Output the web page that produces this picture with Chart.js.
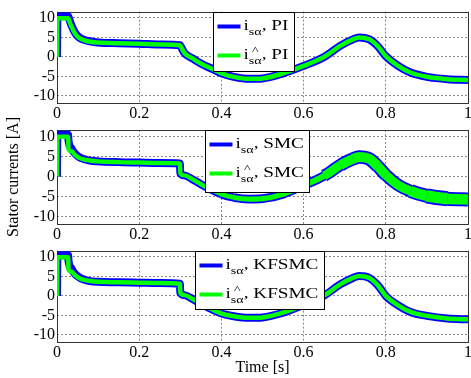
<!DOCTYPE html>
<html>
<head>
<meta charset="utf-8">
<script src="https://cdn.jsdelivr.net/npm/chart.js@4/dist/chart.umd.min.js"></script>
<style>
  html, body { margin: 0; padding: 0; background: #fff; }
  #wrap { position: relative; width: 471px; height: 378px; overflow: hidden; }
  #wrap canvas { position: absolute; left: 0; }
</style>
</head>
<body>
<div id="wrap">
  <canvas id="chartPI" width="471" height="121" style="top:0px"></canvas>
  <canvas id="chartSMC" width="471" height="142" style="top:100px"></canvas>
  <canvas id="chartKFSMC" width="471" height="139" style="top:239px"></canvas>
</div>
<script>
// time axis [s] and ticks
const timeS = [0, 0.001, 0.027, 0.028, 0.035, 0.045, 0.055, 0.065, 0.08, 0.1, 0.15, 0.2, 0.25, 0.299, 0.3, 0.31, 0.33, 0.35, 0.38, 0.4, 0.43, 0.468, 0.5, 0.55, 0.6, 0.65, 0.69, 0.72, 0.735, 0.76, 0.78, 0.8, 0.83, 0.86, 0.9, 0.95, 1.0];
const xTicks = [0, 0.2, 0.4, 0.6, 0.8, 1];
const yTicks = [-10, -5, 0, 5, 10];
const legendNames = ['PI', 'SMC', 'KFSMC'];

// PI : measured / estimated current [A]
const piMeas = [0, 10.4, 10.4, 10.2, 8.1, 6.0, 4.9, 4.4, 4.0, 3.7, 3.5, 3.4, 3.2, 3.0, 2.9, 1.0, -0.4, -1.7, -3.2, -4.2, -5.1, -5.6, -5.5, -4.2, -2.3, 0.0, 2.9, 4.5, 5.0, 4.5, 2.8, 0.2, -2.3, -4.0, -5.1, -5.7, -5.9];
const piEst = [0, 9.9, 9.9, 9.7, 7.8, 5.8, 4.8, 4.3, 3.9, 3.7, 3.5, 3.4, 3.2, 3.0, 2.9, 1.0, -0.4, -1.7, -3.2, -4.2, -5.1, -5.6, -5.5, -4.2, -2.3, 0.0, 2.9, 4.5, 5.0, 4.5, 2.8, 0.2, -2.3, -4.0, -5.1, -5.7, -5.9];

// SMC
const smcMeas = [0, 10.4, 10.4, 9.0, 7.0, 5.6, 4.8, 4.4, 4.0, 3.8, 3.6, 3.5, 3.4, 3.3, 0.8, 0.3, -0.7, -1.9, -3.5, -4.4, -5.2, -5.6, -5.5, -4.4, -2.2, 0.2, 2.9, 4.4, 4.9, 4.4, 2.6, 0.4, -2.1, -3.6, -4.8, -5.5, -5.7];
const smcEst = [0, 9.9, 9.9, 6.8, 6.3, 5.3, 4.6, 4.3, 4.0, 3.8, 3.6, 3.5, 3.4, 3.3, 0.8, 0.3, -0.7, -1.9, -3.5, -4.4, -5.2, -5.6, -5.5, -4.4, -2.2, 0.2, 2.9, 4.4, 4.9, 4.4, 2.6, 0.4, -2.1, -3.6, -4.8, -5.5, -5.7];
// chattering band thickness of the SMC estimate [A]
const smcBand = [1.1, 1.1, 1.1, 1.1, 1.1, 1.1, 1.1, 1.1, 1.1, 1.1, 1.1, 1.1, 1.1, 1.1, 1.1, 1.1, 1.1, 1.1, 1.1, 1.2, 1.3, 1.3, 1.3, 1.3, 1.5, 2.2, 2.4, 2.5, 2.5, 2.5, 2.4, 2.3, 2.3, 2.6, 2.9, 2.6, 2.2];

// KFSMC
const kfMeas = [0, 10.4, 10.4, 9.0, 7.0, 5.5, 4.7, 4.2, 3.8, 3.6, 3.5, 3.4, 3.3, 3.1, 0.8, 0.2, -0.8, -2.0, -3.6, -4.5, -5.2, -5.6, -5.5, -4.3, -2.3, 0.1, 3.0, 4.6, 5.1, 4.6, 2.8, 0.0, -2.4, -4.1, -5.1, -5.8, -6.0];
const kfEst = [0, 9.9, 9.9, 6.8, 6.2, 5.2, 4.5, 4.1, 3.8, 3.6, 3.5, 3.4, 3.3, 3.1, 0.8, 0.2, -0.8, -2.0, -3.6, -4.5, -5.2, -5.6, -5.5, -4.3, -2.3, 0.1, 3.0, 4.6, 5.1, 4.6, 2.8, 0.0, -2.4, -4.1, -5.1, -5.8, -6.0];

const BLUE = '#0000ff';
const GREEN = '#00ff00';
const SERIF = '"Liberation Serif", "Times New Roman", serif';
const tickFont = { family: SERIF, size: 16 };
const titleFont = { family: SERIF, size: 16 };

// {x, y} points
function toPoints(values) {
    return timeS.map((t, i) => ({ x: t, y: values[i] }));
}

// legend text : i_sα, NAME (with hat)
function drawLegendText(ctx, x, y, hat, name) {
    ctx.save();
    ctx.translate(x, y);
    ctx.scale(1.28, 1);
    ctx.fillStyle = '#000';
    ctx.textBaseline = 'alphabetic';
    ctx.font = '15px ' + SERIF;
    ctx.fillText('i', 0, 0);
    const iw = ctx.measureText('i').width;
    ctx.font = '11px ' + SERIF;
    const sw = ctx.measureText('sα').width;
    ctx.fillText('sα', iw, 4.5);
    if (hat) {
        const hw = ctx.measureText('^').width;
        ctx.fillText('^', iw + (sw - hw) / 2, -5);
    }
    ctx.font = '15px ' + SERIF;
    ctx.fillText(', ' + name, iw + sw, 0);
    ctx.restore();
}

// plot frame + boxed legend inside the plot
const framePlugin = {
    id: 'frame',
    beforeDatasetsDraw(chart) {
        const { ctx, chartArea: a } = chart;
        ctx.save();
        ctx.strokeStyle = '#333';
        ctx.lineWidth = 1;
        ctx.strokeRect(Math.round(a.left) + 0.5, Math.round(a.top) + 0.5, Math.round(a.width), Math.round(a.height));
        ctx.restore();
    },
    afterDraw(chart, args, o) {
        const { ctx, chartArea: a } = chart;
        const x = Math.round(a.left + o.left) + 0.5;
        const y = Math.round(a.top) + 0.5;
        ctx.save();
        ctx.fillStyle = '#fff';
        ctx.fillRect(x, y, o.width, o.height);
        ctx.strokeStyle = '#000';
        ctx.lineWidth = 1;
        ctx.strokeRect(x, y, o.width, o.height);
        [BLUE, GREEN].forEach((color, i) => {
            const ly = y + [14, 43][i];
            ctx.strokeStyle = color;
            ctx.lineWidth = 4;
            ctx.beginPath();
            ctx.moveTo(x + 4, ly);
            ctx.lineTo(x + 27, ly);
            ctx.stroke();
            drawLegendText(ctx, x + 30, ly + 3.5, i === 1, o.name);
        });
        ctx.restore();
    }
};

// chart config
function getChart(id, meas, est, opt) {
    const state = { ppu: 4 };
    const estWidth = c => opt.band ? opt.band[c.p0DataIndex] * state.ppu : 4.5;
    const measWidth = c => opt.band ? opt.band[c.p0DataIndex] * state.ppu + 3.5 : 8;

    new Chart(document.getElementById(id), {
        type: 'line',
        data: {
            datasets: [{
                data: toPoints(est),
                borderColor: GREEN,
                borderWidth: 4.5,
                segment: { borderWidth: estWidth },
                pointRadius: 0,
                cubicInterpolationMode: 'monotone'
            }, {
                data: toPoints(meas),
                borderColor: BLUE,
                borderWidth: 8,
                segment: { borderWidth: measWidth },
                pointRadius: 0,
                cubicInterpolationMode: 'monotone'
            }]
        },
        options: {
            responsive: false,
            animation: false,
            events: [],
            layout: { padding: { top: opt.top, right: 3, left: 0, bottom: 0 } },
            plugins: {
                legend: { display: false },
                tooltip: { enabled: false },
                frame: opt.legend
            },
            scales: {
                x: {
                    type: 'linear',
                    min: 0,
                    max: 1,
                    afterBuildTicks: s => { s.ticks = xTicks.map(v => ({ value: v })); },
                    afterFit: s => { s.height = opt.xHeight; s.paddingLeft = 0; s.paddingRight = 0; },
                    ticks: { color: '#000', font: tickFont, padding: 1, maxRotation: 0, autoSkip: false, callback: v => String(v) },
                    grid: { color: '#888', drawTicks: false },
                    border: { display: false, dash: [2, 2] },
                    title: {
                        display: !!opt.xTitle,
                        text: opt.xTitle || '',
                        color: '#000',
                        font: titleFont,
                        padding: { top: 0, bottom: 1 }
                    }
                },
                y: {
                    min: -11.8,
                    max: 11.6,
                    afterBuildTicks: s => { s.ticks = yTicks.map(v => ({ value: v })); },
                    afterFit: s => { s.width = 57; },
                    ticks: { color: '#000', font: tickFont, padding: 2, autoSkip: false, callback: v => String(v) },
                    grid: { color: '#888', drawTicks: false },
                    border: { display: false, dash: [2, 2] },
                    title: {
                        display: !!opt.yTitle,
                        text: opt.yTitle || '',
                        color: '#000',
                        font: titleFont,
                        padding: { top: 4, bottom: 0 }
                    }
                }
            }
        },
        plugins: [framePlugin, {
            id: 'ppu',
            afterLayout(chart) {
                const y = chart.scales.y;
                state.ppu = Math.abs(y.getPixelForValue(0) - y.getPixelForValue(1));
            }
        }]
    });
}

window.addEventListener('DOMContentLoaded', function() {
    getChart('chartPI', piMeas, piEst, {
        top: 9,
        xHeight: 18,
        legend: { left: 156, width: 81, height: 59, name: legendNames[0] }
    });
    getChart('chartSMC', smcMeas, smcEst, {
        top: 30,
        xHeight: 18,
        band: smcBand,
        yTitle: 'Stator currents [A]',
        legend: { left: 148, width: 104, height: 62, name: legendNames[1] }
    });
    getChart('chartKFSMC', kfMeas, kfEst, {
        top: 9,
        xHeight: 36,
        xTitle: 'Time [s]',
        legend: { left: 138, width: 129, height: 58, name: legendNames[2] }
    });
});
</script>
</body>
</html>
